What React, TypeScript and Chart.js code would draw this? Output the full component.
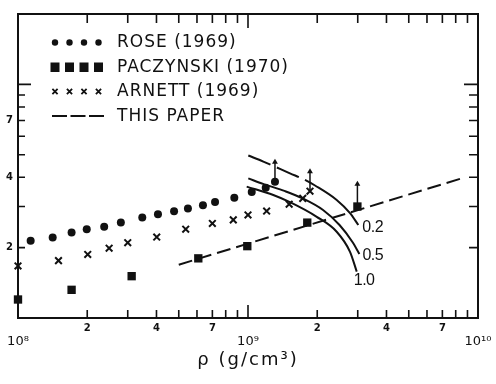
import React, { useEffect, useRef } from 'react';
import { Chart, registerables } from 'chart.js';

Chart.register(...registerables);

const INK = '#111111';

// ---------- data ----------
const seriesNames = ['ROSE (1969)', 'PACZYNSKI (1970)', 'ARNETT (1969)', 'THIS PAPER'];

const roseX = [1.135e8, 1.415e8, 1.71e8, 1.99e8, 2.37e8, 2.8e8, 3.47e8, 4.06e8, 4.77e8, 5.48e8, 6.37e8, 7.19e8, 8.72e8, 1.038e9, 1.194e9, 1.31e9];
const roseY = [2.14, 2.21, 2.32, 2.4, 2.46, 2.56, 2.69, 2.78, 2.86, 2.94, 3.04, 3.14, 3.27, 3.46, 3.61, 3.83];

const paczynskiX = [1.0e8, 1.71e8, 3.12e8, 6.08e8, 9.93e8, 1.81e9, 2.99e9];
const paczynskiY = [1.2, 1.32, 1.51, 1.8, 2.03, 2.56, 3.0];

const arnettX = [1.0e8, 1.5e8, 2.01e8, 2.49e8, 3.0e8, 4.01e8, 5.36e8, 7.0e8, 8.63e8, 1.0e9, 1.205e9, 1.51e9, 1.73e9, 1.86e9];
const arnettY = [1.67, 1.76, 1.87, 1.99, 2.1, 2.22, 2.4, 2.54, 2.63, 2.76, 2.87, 3.07, 3.25, 3.49];

const thisPaperX = [5.0e8, 8.5e9];
const thisPaperY = [1.69, 3.96];

// lower-limit arrows on the last Rose, Arnett and Paczynski points
const arrowTopRose = 4.65;
const arrowTopArnett = 4.23;
const arrowTopPaczynski = 3.74;

const curveLabels = ['0.2', '0.5', '1.0'];
const curve02X = [1.003e9, 1.166e9, 1.522e9, 1.769e9, 1.956e9, 2.43e9, 2.777e9, 3.017e9];
const curve02Y = [4.96, 4.67, 4.16, 3.9, 3.69, 3.2, 2.81, 2.5];
const curve02DashedUntil = 1.769e9;
const curve05X = [1.003e9, 1.163e9, 1.45e9, 1.73e9, 2.12e9, 2.5e9, 2.85e9, 3.05e9];
const curve05Y = [3.96, 3.75, 3.49, 3.25, 2.9, 2.5, 2.11, 1.88];
const curve10X = [0.987e9, 1.288e9, 1.522e9, 1.99e9, 2.43e9, 2.777e9, 2.97e9];
const curve10Y = [3.65, 3.36, 3.13, 2.71, 2.34, 1.92, 1.58];

// ---------- ticks ----------
const xTickValues = [1e8, 2e8, 3e8, 4e8, 5e8, 6e8, 7e8, 8e8, 9e8, 1e9, 2e9, 3e9, 4e9, 5e9, 6e9, 7e9, 8e9, 9e9, 1e10];
const xDecadeValues = [1e8, 1e9, 1e10];
const xDecadeLabels = ['10⁸', '10⁹', '10¹⁰'];
const xLabeledMantissas = [2, 4, 7];
const yTickValues = [2, 3, 4, 5, 6, 7, 8, 9, 10];
const yLabeledValues = [2, 4, 7];
const xTitle = 'ρ (g/cm³)';

const pts = (xs: number[], ys: number[]) => xs.map((x, i) => ({ x, y: ys[i] }));
const decadeIndex = (v: number) => xDecadeValues.findIndex((d) => Math.abs(v / d - 1) < 1e-6);
const mantissa = (v: number) => Math.round(v / Math.pow(10, Math.floor(Math.log10(v) + 1e-9)));

const arrow = (xs: number[], ys: number[], top: number) => ({
  data: [
    { x: xs[xs.length - 1], y: ys[ys.length - 1] },
    { x: xs[xs.length - 1], y: top },
  ],
  showLine: true,
  borderColor: INK,
  backgroundColor: INK,
  borderWidth: 1.5,
  pointStyle: 'triangle',
  pointRadius: [0, 3.4],
  pointBorderWidth: 0,
  clip: false,
});

const curve = (xs: number[], ys: number[], label: string, offset: number[], extra: any = {}) => ({
  data: pts(xs, ys),
  showLine: true,
  borderColor: INK,
  borderWidth: 2,
  pointRadius: 0,
  cubicInterpolationMode: 'monotone',
  endLabel: label,
  endLabelOffset: offset,
  clip: false,
  ...extra,
});

// ---------- plugins ----------
const framePlugin = {
  id: 'frameTicks',
  beforeDraw(chart: any) {
    chart.ctx.letterSpacing = '2px';
  },
  beforeDatasetsDraw(chart: any) {
    const { ctx, chartArea: a, scales } = chart;
    ctx.letterSpacing = '0px';
    ctx.save();
    ctx.strokeStyle = INK;
    ctx.lineWidth = 2;
    ctx.strokeRect(a.left, a.top, a.right - a.left, a.bottom - a.top);
    ctx.lineWidth = 1.6;
    ctx.beginPath();
    scales.x.ticks.forEach((t: any) => {
      const px = scales.x.getPixelForValue(t.value);
      if (px <= a.left + 1 || px >= a.right - 1) return;
      const major = decadeIndex(t.value) >= 0;
      ctx.moveTo(px, a.bottom);
      ctx.lineTo(px, a.bottom - (major ? 13 : 8));
      ctx.moveTo(px, a.top);
      ctx.lineTo(px, a.top + (major ? 14 : 9));
    });
    scales.y.ticks.forEach((t: any) => {
      const py = scales.y.getPixelForValue(t.value);
      const major = t.value === 10;
      ctx.moveTo(a.left, py);
      ctx.lineTo(a.left + (major ? 13 : 7), py);
      ctx.moveTo(a.right, py);
      ctx.lineTo(a.right - (major ? 14 : 9), py);
    });
    ctx.stroke();
    ctx.restore();
  },
  afterDatasetsDraw(chart: any) {
    const { ctx } = chart;
    ctx.save();
    ctx.fillStyle = INK;
    ctx.font = '16px "Liberation Sans"';
    ctx.letterSpacing = '-0.5px';
    ctx.textAlign = 'left';
    ctx.textBaseline = 'middle';
    chart.data.datasets.forEach((ds: any, i: number) => {
      if (!ds.endLabel) return;
      const meta = chart.getDatasetMeta(i);
      const last = meta.data[meta.data.length - 1];
      ctx.fillText(ds.endLabel, last.x + ds.endLabelOffset[0], last.y + ds.endLabelOffset[1]);
    });
    ctx.restore();
  },
};

const legendPlugin = {
  id: 'paperLegend',
  afterDraw(chart: any) {
    const { ctx, chartArea: a } = chart;
    const markerX0 = a.left + 37;
    const step = 14.5;
    const textX = a.left + 99;
    const rowY0 = a.top + 28.5;
    const rowStep = 24.5;
    ctx.save();
    ctx.fillStyle = INK;
    ctx.strokeStyle = INK;
    seriesNames.forEach((name, i) => {
      const y = rowY0 + i * rowStep;
      if (i < 3) {
        for (let k = 0; k < 4; k++) {
          const x = markerX0 + k * step;
          if (i === 0) {
            ctx.beginPath();
            ctx.arc(x, y, 3.2, 0, Math.PI * 2);
            ctx.fill();
          } else if (i === 1) {
            ctx.fillRect(x - 4.5, y - 4.5, 9, 9.5);
          } else {
            ctx.lineWidth = 1.8;
            ctx.beginPath();
            ctx.moveTo(x - 2.6, y - 2.6);
            ctx.lineTo(x + 2.6, y + 2.6);
            ctx.moveTo(x + 2.6, y - 2.6);
            ctx.lineTo(x - 2.6, y + 2.6);
            ctx.stroke();
          }
        }
      } else {
        ctx.lineWidth = 2.2;
        ctx.setLineDash([15, 3.5]);
        ctx.beginPath();
        ctx.moveTo(markerX0 - 3, y);
        ctx.lineTo(markerX0 + 3 * step + 6, y);
        ctx.stroke();
        ctx.setLineDash([]);
      }
      ctx.font = '17px "DejaVu Sans"';
      ctx.letterSpacing = '1px';
      ctx.textAlign = 'left';
      ctx.textBaseline = 'middle';
      ctx.fillText(name, textX, y + 0.5);
    });
    ctx.restore();
  },
};

export default function App() {
  const ref = useRef<HTMLCanvasElement>(null);

  useEffect(() => {
    document.body.style.margin = '0';
    Chart.defaults.font.family = "'DejaVu Sans', sans-serif";
    Chart.defaults.color = INK;

    const chart = new Chart(ref.current as HTMLCanvasElement, {
      type: 'scatter',
      data: {
        datasets: [
          {
            label: seriesNames[0],
            data: pts(roseX, roseY),
            pointStyle: 'circle',
            pointRadius: 4,
            backgroundColor: INK,
            borderColor: INK,
            borderWidth: 0,
            clip: false,
          } as any,
          {
            label: seriesNames[1],
            data: pts(paczynskiX, paczynskiY),
            pointStyle: 'rect',
            pointRadius: 5.9,
            backgroundColor: INK,
            borderColor: INK,
            borderWidth: 0,
            clip: false,
          },
          {
            label: seriesNames[2],
            data: pts(arnettX, arnettY),
            pointStyle: 'crossRot',
            pointRadius: 4.7,
            borderColor: INK,
            backgroundColor: INK,
            borderWidth: 2,
            clip: false,
          },
          {
            label: seriesNames[3],
            data: pts(thisPaperX, thisPaperY),
            showLine: true,
            borderColor: INK,
            borderWidth: 2,
            borderDash: [14, 6],
            pointRadius: 0,
            clip: false,
          },
          curve(curve02X, curve02Y, curveLabels[0], [4, 3], {
            segment: {
              borderDash: (c: any) => (c.p1.parsed.x <= curve02DashedUntil ? [24, 7] : undefined),
            },
          }),
          curve(curve05X, curve05Y, curveLabels[1], [3, 2]),
          curve(curve10X, curve10Y, curveLabels[2], [-3, 9]),
          arrow(roseX, roseY, arrowTopRose),
          arrow(arnettX, arnettY, arrowTopArnett),
          arrow(paczynskiX, paczynskiY, arrowTopPaczynski),
        ] as any,
      },
      options: {
        animation: false,
        responsive: false,
        devicePixelRatio: 1,
        layout: { padding: { top: 14, right: 18, bottom: 0, left: 0 } },
        plugins: {
          legend: { display: false },
          tooltip: { enabled: false },
        },
        scales: {
          x: {
            type: 'logarithmic',
            min: 1e8,
            max: 1e10,
            afterBuildTicks: (s: any) => {
              s.ticks = xTickValues.map((v) => ({ value: v }));
            },
            afterFit: (s: any) => {
              s.height = 66;
              s.paddingLeft = 0;
              s.paddingRight = 0;
            },
            grid: { display: false, drawTicks: false },
            border: { display: false },
            ticks: {
              autoSkip: false,
              maxRotation: 0,
              minRotation: 0,
              padding: 4.5,
              z: 1,
              color: INK,
              font: (c: any) =>
                c.tick && decadeIndex(c.tick.value) >= 0
                  ? { size: 13, lineHeight: 1.0, weight: 'normal' }
                  : { size: 10, lineHeight: 1.2, weight: 'bold' },
              callback: (v: any) => {
                const di = decadeIndex(Number(v));
                if (di >= 0) return ['', xDecadeLabels[di]];
                const m = mantissa(Number(v));
                return xLabeledMantissas.includes(m) ? String(m) : '';
              },
            },
            title: {
              display: true,
              text: xTitle,
              color: INK,
              font: { size: 18 },
              padding: { top: 0, bottom: 13 },
            },
          },
          y: {
            type: 'logarithmic',
            min: 1,
            max: 20,
            afterBuildTicks: (s: any) => {
              s.ticks = yTickValues.map((v) => ({ value: v }));
            },
            afterFit: (s: any) => {
              s.width = 18;
              s.paddingTop = 0;
              s.paddingBottom = 0;
            },
            grid: { display: false, drawTicks: false },
            border: { display: false },
            ticks: {
              autoSkip: false,
              padding: 5,
              z: 1,
              color: INK,
              font: { size: 10, weight: 'bold' },
              callback: (v: any) => (yLabeledValues.includes(Number(v)) ? String(v) : ''),
            },
          },
        },
      } as any,
      plugins: [framePlugin, legendPlugin],
    });
    return () => chart.destroy();
  }, []);

  return (
    <div style={{ width: 496, height: 384, background: '#fff' }}>
      <canvas ref={ref} width={496} height={384} style={{ display: 'block' }} />
    </div>
  );
}
